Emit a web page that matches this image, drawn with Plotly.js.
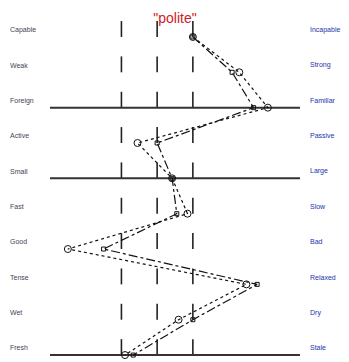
<!DOCTYPE html>
<html>
<head>
<meta charset="utf-8">
<script src="https://cdn.plot.ly/plotly-3.0.1.min.js"></script>
<style>
  html, body { margin: 0; padding: 0; background: #ffffff; }
  #chart { width: 349px; height: 362px; }
</style>
</head>
<body>
<div id="chart"></div>
<script>
// Semantic differential profile for the concept "polite"
const leftLabels  = ["Capable", "Weak", "Foreign", "Active", "Small", "Fast", "Good", "Tense", "Wet", "Fresh"];
const rightLabels = ["Incapable", "Strong", "Familiar", "Passive", "Large", "Slow", "Bad", "Relaxed", "Dry", "Stale"];
const scaleTicks  = [-1, 0, 1];
const ruledRows   = [2, 4, 9];
const profileA    = [1.0, 2.1, 2.7, 0.0, 0.42, 0.55, -1.5, 2.8, 1.0, -0.67];
const profileB    = [1.0, 2.3, 3.1, -0.55, 0.42, 0.85, -2.5, 2.5, 0.6, -0.9];
const scaleMin = -3, scaleMax = 4;
const tickLen = 0.45;

const rows = leftLabels.map((_, i) => i);

// short vertical ticks sitting on each row's baseline
const tx = [], ty = [];
rows.forEach(r => {
  scaleTicks.forEach(t => { tx.push(t, t, null); ty.push(r, r - tickLen, null); });
});

// full-width rules under selected rows
const hx = [], hy = [];
ruledRows.forEach(r => { hx.push(scaleMin, scaleMax, null); hy.push(r, r, null); });

const traces = [
  { x: tx, y: ty, mode: 'lines', line: { color: '#222', width: 1.6 }, hoverinfo: 'skip', showlegend: false },
  { x: hx, y: hy, mode: 'lines', line: { color: '#333', width: 2 }, hoverinfo: 'skip', showlegend: false },
  { x: profileA, y: rows, mode: 'lines+markers', name: 'A',
    line: { color: '#111', width: 1.2, dash: 'dashdot' },
    marker: { symbol: 'square-open', size: 4, color: '#111', line: { width: 1 } }, showlegend: false },
  { x: profileB, y: rows, mode: 'lines+markers', name: 'B',
    line: { color: '#111', width: 1.2, dash: 'dot' },
    marker: { symbol: 'circle-open', size: 7, color: '#111', line: { width: 1 } }, showlegend: false }
];

const annotations = [];
rows.forEach(r => {
  annotations.push({ text: leftLabels[r], xref: 'paper', x: -0.17, xanchor: 'left',
    yref: 'y', y: r - 0.2, yanchor: 'middle', showarrow: false,
    font: { family: 'Arial, Liberation Sans, sans-serif', size: 7, color: '#445' } });
  annotations.push({ text: rightLabels[r], xref: 'paper', x: 1.03, xanchor: 'left',
    yref: 'y', y: r - 0.2, yanchor: 'middle', showarrow: false,
    font: { family: 'Arial, Liberation Sans, sans-serif', size: 7, color: '#2233aa' } });
});

const layout = {
  width: 349, height: 362,
  margin: { l: 50, r: 49, t: 20, b: 2 },
  paper_bgcolor: '#ffffff', plot_bgcolor: '#ffffff',
  title: { text: '"polite"', font: { family: 'Arial, Liberation Sans, sans-serif', size: 14, color: '#cc2222' },
           x: 0.5, xref: 'paper', xanchor: 'center', y: 1 - 18 / 362, yref: 'container', yanchor: 'middle' },
  xaxis: { range: [scaleMin, scaleMax], visible: false, fixedrange: true },
  yaxis: { range: [9.14, -0.48], visible: false, fixedrange: true },
  annotations: annotations,
  showlegend: false
};

Plotly.newPlot('chart', traces, layout, { staticPlot: true, displayModeBar: false });
</script>
</body>
</html>
